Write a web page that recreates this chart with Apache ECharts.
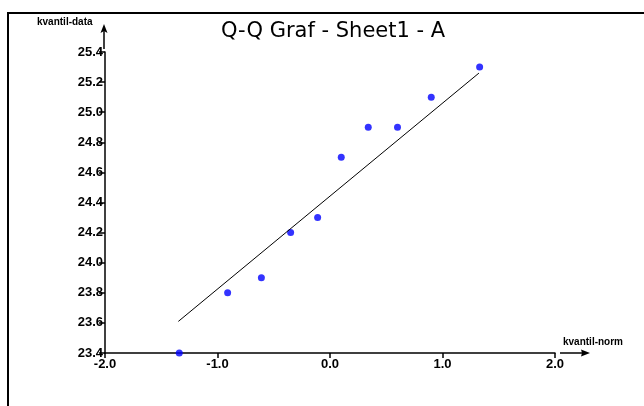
<!DOCTYPE html>
<html>
<head>
<meta charset="utf-8">
<script src="https://cdn.jsdelivr.net/npm/echarts@6/dist/echarts.min.js"></script>
<style>
html,body{margin:0;padding:0;background:#fff;}
#chart{width:644px;height:406px;}
</style>
</head>
<body>
<div id="chart"></div>
<script>
// Data
var titleText = 'Q-Q Graf - Sheet1 - A';
var xAxisName = 'kvantil-norm';
var yAxisName = 'kvantil-data';
var normQuantiles = [-1.34, -0.91, -0.61, -0.35, -0.11, 0.10, 0.34, 0.60, 0.90, 1.33];
var dataValues = [23.4, 23.8, 23.9, 24.2, 24.3, 24.7, 24.9, 24.9, 25.1, 25.3];
var fitLineX = [-1.348, 1.324];
var fitLineY = [23.61, 25.26];
var xTicks = [-2.0, -1.0, 0.0, 1.0, 2.0];
var yTicks = [23.4, 23.6, 23.8, 24.0, 24.2, 24.4, 24.6, 24.8, 25.0, 25.2, 25.4];

var points = normQuantiles.map(function (x, i) { return [x, dataValues[i]]; });
var fitLine = fitLineX.map(function (x, i) { return [x, fitLineY[i]]; });

var chart = echarts.init(document.getElementById('chart'), null, {renderer: 'canvas'});
var axisFont = {fontFamily: 'Liberation Sans', fontSize: 13, color: '#000', fontWeight: 'bold'};
chart.setOption({
  animation: false,
  backgroundColor: '#fff',
  title: {
    text: titleText,
    left: 216,
    top: 16,
    textStyle: {fontFamily: 'DejaVu Sans', fontSize: 21, fontWeight: 'normal', color: '#000'}
  },
  grid: {left: 105, right: 89, top: 52, bottom: 53},
  xAxis: {
    type: 'value',
    min: xTicks[0], max: xTicks[xTicks.length - 1], interval: 1,
    splitLine: {show: false},
    axisLine: {onZero: false, lineStyle: {color: '#000', width: 1.5}},
    axisTick: {length: 5, lineStyle: {color: '#000', width: 1.5}},
    axisLabel: Object.assign({margin: 5, formatter: function (v) { return v.toFixed(1); }}, axisFont)
  },
  yAxis: {
    type: 'value',
    min: yTicks[0], max: yTicks[yTicks.length - 1], interval: 0.2,
    splitLine: {show: false},
    axisLine: {onZero: false, lineStyle: {color: '#000', width: 1.5}},
    axisTick: {length: 6, lineStyle: {color: '#000', width: 1.5}},
    axisLabel: Object.assign({margin: 2, formatter: function (v) { return v.toFixed(1); }}, axisFont)
  },
  series: [{
    type: 'line',
    data: fitLine,
    symbol: 'none',
    lineStyle: {color: '#000', width: 1},
    clip: false,
    silent: true
  }, {
    type: 'scatter',
    data: points,
    symbol: 'circle',
    symbolSize: 7,
    itemStyle: {color: '#0000ff'},
    clip: false
  }]
});

// axis arrows and frame drawn as decoration, positioned from the axes' own scale
var xEnd = chart.convertToPixel({gridIndex: 0}, [xTicks[xTicks.length - 1], yTicks[0]]);
var yEnd = chart.convertToPixel({gridIndex: 0}, [xTicks[0], yTicks[yTicks.length - 1]]);
var ax = xEnd[0], ay = xEnd[1];
var bx = yEnd[0], by = yEnd[1];
chart.setOption({
  graphic: [{
    type: 'rect',
    shape: {x: 8, y: 13, width: 700, height: 500},
    style: {fill: null, stroke: '#000', lineWidth: 2},
    silent: true
  }, {
    type: 'text',
    left: 37, top: 17,
    style: {text: yAxisName, font: 'bold 10px Liberation Sans', fill: '#000'}
  }, {
    type: 'text',
    left: 563, top: 337,
    style: {text: xAxisName, font: 'bold 10px Liberation Sans', fill: '#000'}
  }, {
    type: 'line',
    shape: {x1: ax + 5, y1: ay, x2: ax + 30, y2: ay},
    style: {stroke: '#000', lineWidth: 1.5}
  }, {
    type: 'polygon',
    shape: {points: [[ax + 35, ay], [ax + 26, ay - 3.5], [ax + 27, ay], [ax + 26, ay + 3.5]]},
    style: {fill: '#000'}
  }, {
    type: 'line',
    shape: {x1: bx - 1, y1: by - 3, x2: bx - 1, y2: by - 22},
    style: {stroke: '#000', lineWidth: 1.5}
  }, {
    type: 'polygon',
    shape: {points: [[bx - 1, by - 28], [bx - 4.5, by - 19], [bx - 1, by - 21], [bx + 2.5, by - 19]]},
    style: {fill: '#000'}
  }]
});
</script>
</body>
</html>
